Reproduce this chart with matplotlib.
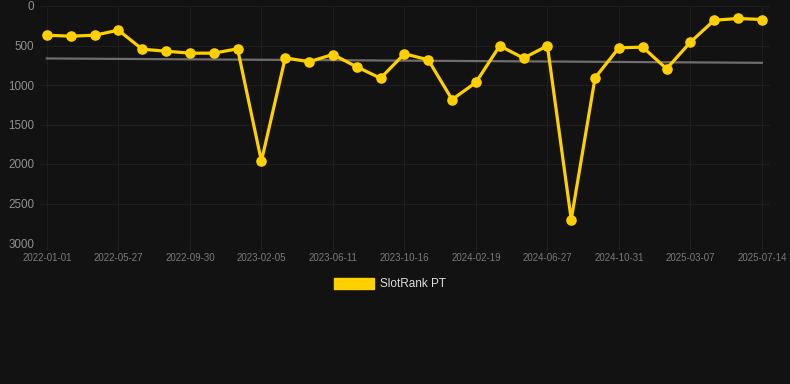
import numpy as np
import matplotlib
matplotlib.use("Agg")
import matplotlib.pyplot as plt
from matplotlib.patches import Patch

## data (rank, lower is better)
dates = ['2022-01-01', '2022-05-27', '2022-09-30', '2023-02-05', '2023-06-11',
         '2023-10-16', '2024-02-19', '2024-06-27', '2024-10-31', '2025-03-07',
         '2025-07-14']
ranks = [370, 382, 370, 306, 547, 572, 597, 597, 542, 1964,
         656, 706, 614, 770, 914, 605, 681, 1184, 968, 504,
         660, 504, 2703, 909, 529, 521, 795, 458, 180, 158, 171]
yticks = [0, 500, 1000, 1500, 2000, 2500, 3000]

bg = '#121212'
yellow = '#FFD000'

x = np.arange(len(ranks))
slope, icpt = np.polyfit(x, ranks, 1)
trend = slope * x + icpt

fig = plt.figure(figsize=(7.9, 3.84), dpi=100, facecolor=bg)
ax = fig.add_axes([40/790, 1 - 243/384, 730/790, 237/384], facecolor=bg)
plt.rcParams['font.family'] = ['Liberation Sans', 'DejaVu Sans']

ax.plot(x, trend, color='#6e6e6e', linewidth=1.6, zorder=2)
ax.plot(x, ranks, color=yellow, linewidth=2.3, marker='o', markersize=6.6,
        zorder=3, solid_joinstyle='round')

ax.set_xlim(-0.29, 30.34)
ax.set_ylim(3000, 0)
ax.set_yticks(yticks)
ax.set_yticklabels([str(v) for v in yticks], fontsize=8.4, color='#909090',
                   family=['Liberation Sans'])
ax.set_xticks(x[::3])
ax.set_xticklabels(dates, fontsize=7, color='#7a7a7a', family=['Liberation Sans'])
ax.tick_params(axis='y', length=0, pad=4)
ax.tick_params(axis='x', length=5, color='#222222', pad=2)
ax.grid(True, color='#1e1e1e', linewidth=0.8)
ax.set_axisbelow(True)
for s in ax.spines.values():
    s.set_visible(False)

handle = Patch(facecolor=yellow, edgecolor=yellow)
leg = fig.legend([handle], ['SlotRank PT'], loc='center', bbox_to_anchor=(0.494, 0.26),
                 frameon=False, handlelength=3.4, handleheight=1.0,
                 handletextpad=0.5, prop={'family': 'Liberation Sans', 'size': 8.5})
for t in leg.get_texts():
    t.set_color('#dddddd')

fig.savefig('out.png', dpi=100, facecolor=bg)
